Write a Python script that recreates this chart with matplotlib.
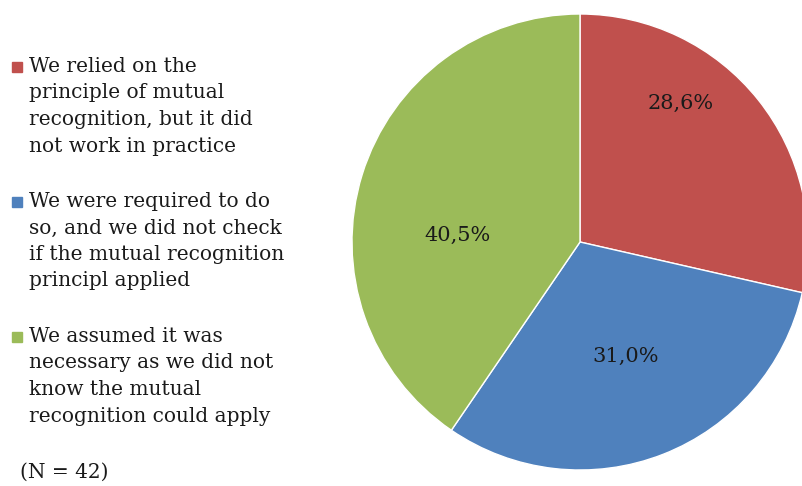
import numpy as np
import matplotlib.pyplot as plt
from matplotlib.patches import Rectangle

labels = ["We relied on the\nprinciple of mutual\nrecognition, but it did\nnot work in practice",
          "We were required to do\nso, and we did not check\nif the mutual recognition\nprincipl applied",
          "We assumed it was\nnecessary as we did not\nknow the mutual\nrecognition could apply"]
values = [28.6, 31.0, 40.5]
pct_text = ["28,6%", "31,0%", "40,5%"]
colors = ["#C0504D", "#4F81BD", "#9BBB59"]
note = "(N = 42)"

W, H = 802, 486
fig = plt.figure(figsize=(W / 100, H / 100), dpi=100)
plt.rcParams['font.family'] = ['DejaVu Serif']

# pie: centre (580, 242) px, radius 228 px, runs off the right edge
cx, cy, r = 580, 242, 228
ax = fig.add_axes([(cx - r) / W, (H - cy - r) / H, 2 * r / W, 2 * r / H])
wedges, _ = ax.pie(values, colors=colors, startangle=90, counterclock=False,
                   radius=1, wedgeprops=dict(edgecolor="white", linewidth=1))
ax.set_xlim(-1, 1)
ax.set_ylim(-1, 1)
ax.set_aspect("auto")

# label placement (distance from centre, angle in degrees)
lab_pos = [(0.75, 54), (0.54, -68), (0.54, 177)]
for t, (d, a) in zip(pct_text, lab_pos):
    ax.text(d * np.cos(np.radians(a)), d * np.sin(np.radians(a)), t,
            ha="center", va="center", fontsize=15, color="#1a1a1a")

# legend drawn by hand so the marker sits on the first line
tops = [55, 190, 325]
for lab, col, top in zip(labels, colors, tops):
    fig.patches.append(Rectangle((12 / W, 1 - (top + 17) / H), 10 / W, 10 / H,
                                 transform=fig.transFigure, color=col))
    fig.text(29 / W, 1 - (top + 2) / H, lab, ha="left", va="top",
             fontsize=14.5, linespacing=1.5, color="#1a1a1a")

fig.text(20 / W, 1 - 472 / H, note, ha="left", va="center", fontsize=14.5, color="#1a1a1a")

fig.savefig("out.png", dpi=100)
